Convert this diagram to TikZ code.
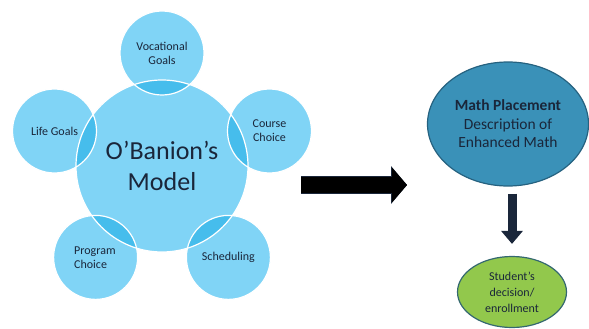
\documentclass[tikz,border=0pt]{standalone}
\usepackage{fontspec}
\setmainfont{Carlito}
\usetikzlibrary{arrows.meta,shapes.geometric}

\definecolor{skyfill}{RGB}{128,212,246}
\definecolor{skydeep}{RGB}{70,189,236}
\definecolor{tealfill}{RGB}{58,145,184}
\definecolor{tealline}{RGB}{38,98,128}
\definecolor{limefill}{RGB}{146,200,76}
\definecolor{limeline}{RGB}{52,104,112}
\definecolor{inkblue}{RGB}{26,38,58}

\newcommand{\hubradius}{86pt}
\newcommand{\petalradius}{42pt}

\begin{document}
\begin{tikzpicture}[x=1pt,y=-1pt,
  every node/.style={text=inkblue,align=center,inner sep=0pt},
  hub node/.style={circle,fill=skyfill,minimum size=172pt,font=\fontsize{26}{31}\selectfont},
  petal node/.style={circle,fill=skyfill,minimum size=84pt,font=\fontsize{12}{14}\selectfont},
  math node/.style={ellipse,fill=tealfill,draw=tealline,line width=1.2pt,minimum width=161pt,minimum height=124pt,font=\fontsize{15.5}{18.5}\selectfont},
  choice node/.style={ellipse,fill=limefill,draw=limeline,line width=1.2pt,minimum width=109pt,minimum height=71pt,font=\fontsize{12}{16}\selectfont},
  fat arrow/.style={line width=16pt,-{Triangle[length=15pt,width=34pt]},
    preaction={draw=inkblue,line width=17.6pt,-{Triangle[length=16pt,width=37pt]}}},
  thin arrow/.style={draw=inkblue,line width=9pt,-{Triangle[length=13pt,width=21pt]}}]

  \useasboundingbox (0,0) rectangle (589,329);

  \node[petal node] (vocational) at (162,53) {Vocational\\Goals};
  \node[petal node] (course) at (269.5,131) {Course\\Choice};
  \node[petal node] (life) at (54.5,131) {Life Goals};
  \node[petal node] (scheduling) at (228.4,257.4) {Scheduling};
  \node[petal node,align=left] (program) at (95.6,257.4) {Program\\Choice\hspace*{10pt}};
  \node[hub node] (hub) at (162,166) {O’Banion’s\\Model};

  \foreach \petal in {vocational,course,life,scheduling,program}{
    \begin{scope}
      \clip (hub.center) circle[radius=\hubradius];
      \fill[skydeep] (\petal.center) circle[radius=\petalradius];
    \end{scope}
    \draw[white,line width=1.2pt] (\petal.center) circle[radius=\petalradius];
  }
  \draw[white,line width=1.2pt] (hub.center) circle[radius=\hubradius];

  \node[math node] (math) at (508,124) {\textbf{Math Placement}\\Description of\\Enhanced Math};
  \node[choice node] (decision) at (512,292) {Student’s\\decision/\\enrollment};

  \coordinate (flowtail) at (301,185);
  \coordinate (flowtip) at (407,185);
  \draw[fat arrow] (flowtail) -- (flowtip);
  \draw[thin arrow,shorten <=7pt,shorten >=12pt] (decision.north |- math.south) -- (decision.north);
\end{tikzpicture}
\end{document}
